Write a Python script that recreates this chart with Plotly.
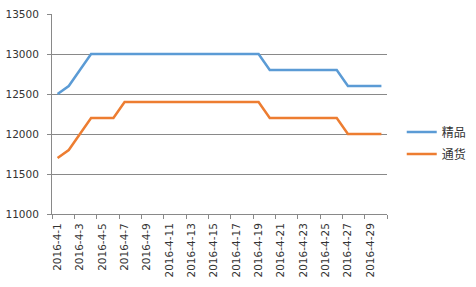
import plotly.graph_objects as go

dates = [f"2016-4-{d}" for d in range(1, 31)]
premium = [12500, 12600, 12800, 13000, 13000, 13000, 13000, 13000, 13000, 13000,
           13000, 13000, 13000, 13000, 13000, 13000, 13000, 13000, 13000, 12800,
           12800, 12800, 12800, 12800, 12800, 12800, 12600, 12600, 12600, 12600]
general = [11700, 11800, 12000, 12200, 12200, 12200, 12400, 12400, 12400, 12400,
           12400, 12400, 12400, 12400, 12400, 12400, 12400, 12400, 12400, 12200,
           12200, 12200, 12200, 12200, 12200, 12200, 12000, 12000, 12000, 12000]
names = ["精品", "通货"]
colors = ["#5B9BD5", "#ED7D31"]

fig = go.Figure()
for i, (nm, ys) in enumerate(zip(names, [premium, general])):
    fig.add_trace(go.Scatter(x=dates, y=ys, name=nm, mode="lines",
                             line=dict(color=colors[i], width=2.5),
                             legendgroup=nm))

axis_col = "#898989"
fig.update_layout(
    width=476, height=287,
    margin=dict(l=52, r=89, t=14, b=73, autoexpand=False),
    paper_bgcolor="white", plot_bgcolor="white",
    font=dict(family="DejaVu Sans", size=10.5, color="#333333"),
    showlegend=True,
    legend=dict(x=1.044, y=0.355, xanchor="left", yanchor="middle",
                font=dict(family="Noto Sans CJK SC", size=12, color="#333333"),
                tracegroupgap=3, traceorder="grouped", itemwidth=30),
    xaxis=dict(type="category", tickmode="linear", dtick=2, tick0=0,
               tickson="boundaries", ticks="outside", ticklen=4,
               tickcolor=axis_col, tickangle=-90,
               showline=True, linecolor=axis_col, linewidth=1,
               showgrid=False, ticklabelstandoff=4, automargin=False,
               range=[-0.5, 29.5]),
    yaxis=dict(range=[11000, 13500], dtick=500, tick0=11000, tickformat="d",
               ticks="outside", ticklen=4, tickcolor=axis_col,
               showline=True, linecolor=axis_col, linewidth=1,
               showgrid=True, gridcolor=axis_col, gridwidth=1,
               zeroline=False, ticklabelstandoff=6, automargin=False),
)
fig.write_html("out.html")
